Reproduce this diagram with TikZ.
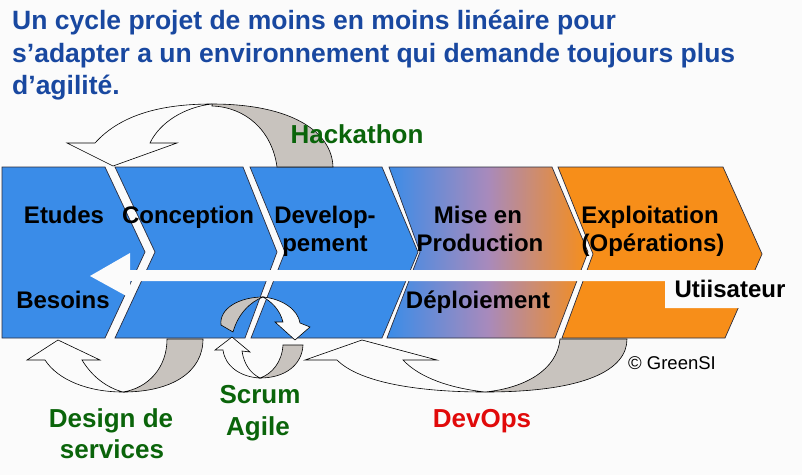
\documentclass[tikz,border=0pt]{standalone}
\usepackage{fontspec}
\setmainfont{Liberation Sans}
\definecolor{chevblue}{RGB}{58,140,232}
\definecolor{chevorange}{RGB}{247,142,25}
\definecolor{chevmid}{RGB}{168,138,188}
\definecolor{chevline}{RGB}{45,45,60}
\definecolor{ribgrey}{RGB}{200,195,190}
\definecolor{ribwhite}{RGB}{251,251,251}
\definecolor{titleblue}{RGB}{25,72,160}
\definecolor{lblgreen}{RGB}{10,100,10}
\definecolor{lblred}{RGB}{225,10,10}
\definecolor{bg}{RGB}{251,251,251}
\begin{document}
\begin{tikzpicture}[x=1pt,y=-1pt,
  chev/.style={draw=chevline, line width=0.7pt},
  ribbon/.style={draw=black, line width=0.6pt, fill=ribwhite},
  ribback/.style={draw=black, line width=0.6pt, fill=ribgrey},
  phase/.style={font=\fontsize{24}{28}\selectfont\bfseries, text=black, inner sep=0pt, anchor=base},
  tag/.style={font=\fontsize{26}{30}\selectfont\bfseries, inner sep=0pt, anchor=base},
  ttl/.style={font=\fontsize{26.5}{32}\selectfont\bfseries, text=titleblue, inner sep=0pt, anchor=base west}]
\fill[bg] (0,0) rectangle (802,475);
\useasboundingbox (0,0) rectangle (802,475);

% title
\node[ttl] (t1) at (12,29) {Un cycle projet de moins en moins linéaire pour};
\node[ttl] (t2) at (12,62) {s’adapter a un environnement qui demande toujours plus};
\node[ttl] (t3) at (12,94) {d’agilité.};

% chevrons
\fill[chevblue, chev] (2,167) -- (105,167) -- (145,252) -- (105,338) -- (2,338) -- cycle;
\fill[chevblue, chev] (115,167) -- (243,167) -- (277,252) -- (245,338) -- (115,338) -- (155,252) -- cycle;
\fill[chevblue, chev] (250,167) -- (382,167) -- (418,252) -- (382,338) -- (251,338) -- (285,252) -- cycle;
\shade[chev, left color=chevblue, right color=chevorange, middle color=chevmid] (389,167) -- (552,167) -- (588,252) -- (555,338) -- (387,338) -- (420,252) -- cycle;
\fill[chevorange, chev] (558,167) -- (723,167) -- (762,254) -- (725,338) -- (562,338) -- (593,254) -- cycle;

% white return arrow with user box
\fill[bg] (90,276) -- (130,253) -- (130,270) -- (802,270) -- (802,308) -- (665,308) -- (665,281) -- (130,281) -- (130,298) -- cycle;

% Hackathon ribbon
\draw[ribback] (212,104) .. controls (292,104) and (332,132) .. (333,167) -- (277,167) .. controls (272,130) and (245,107) .. (212,106) -- cycle;
\draw[ribbon] (95,143) .. controls (122,113) and (165,104) .. (212,104) .. controls (185,107) and (160,122) .. (150,143) -- (177,143) -- (113,166) -- (67,143) -- cycle;

% Design ribbon
\draw[ribback] (123,392) .. controls (172,392) and (203,372) .. (203,339) -- (167,339) .. controls (167,368) and (148,388) .. (123,392) -- cycle;
\draw[ribbon] (123,392) .. controls (88,392) and (58,380) .. (45,360) -- (27,360) -- (58,340) -- (100,360) -- (82,360) .. controls (93,378) and (108,388) .. (123,392) -- cycle;

% DevOps ribbon
\draw[ribback] (485,392) .. controls (585,392) and (627,370) .. (627,339) -- (560,339) .. controls (557,370) and (525,388) .. (485,392) -- cycle;
\draw[ribbon] (485,392) .. controls (420,392) and (360,383) .. (337,360) -- (305,360) -- (362,340) -- (437,360) -- (403,360) .. controls (420,378) and (450,388) .. (485,392) -- cycle;

% Scrum loop
\draw[ribback] (221,325) .. controls (219,308) and (240,297) .. (263,297) .. controls (250,302) and (238,314) .. (233,332) -- cycle;
\draw[ribbon] (263,297) .. controls (283,299) and (298,310) .. (300,323) -- (310,327) -- (295,340) -- (275,322) -- (283,322) .. controls (280,310) and (272,302) .. (263,297) -- cycle;
\draw[ribbon] (260,378) .. controls (240,377) and (225,366) .. (223,350) -- (215,350) -- (232,337) -- (250,352) -- (242,351) .. controls (244,364) and (250,373) .. (260,378) -- cycle;
\draw[ribback] (260,378) .. controls (285,378) and (302,365) .. (303,345) -- (283,345) .. controls (282,362) and (272,374) .. (260,378) -- cycle;

% phase labels
\node[phase] (etudes) at (64,223) {Etudes};
\node[phase] (concep) at (188,223) {Conception};
\node[phase] (dev1) at (325,223) {Develop-};
\node[phase] (dev2) at (325,251) {pement};
\node[phase] (mise1) at (478,223) {Mise en};
\node[phase] (mise2) at (480,251) {Production};
\node[phase] (expl1) at (650,223) {Exploitation};
\node[phase] (expl2) at (653,251) {(Opérations)};
\node[phase] (besoins) at (63,308) {Besoins};
\node[phase] (deploi) at (478,308) {Déploiement};
\node[phase] (user) at (730,297) {Utiisateur};
\node[font=\fontsize{18.5}{22}\selectfont, inner sep=0pt, anchor=base] (copy) at (672,369) {© GreenSI};

% method labels
\node[tag, text=lblgreen] (hack) at (357,143) {Hackathon};
\node[tag, text=lblgreen] (des1) at (111,427) {Design de};
\node[tag, text=lblgreen] (des2) at (112,458) {services};
\node[tag, text=lblgreen] (scr1) at (260,403) {Scrum};
\node[tag, text=lblgreen] (scr2) at (258,435) {Agile};
\node[tag, text=lblred] (devops) at (482,427) {DevOps};
\end{tikzpicture}
\end{document}
